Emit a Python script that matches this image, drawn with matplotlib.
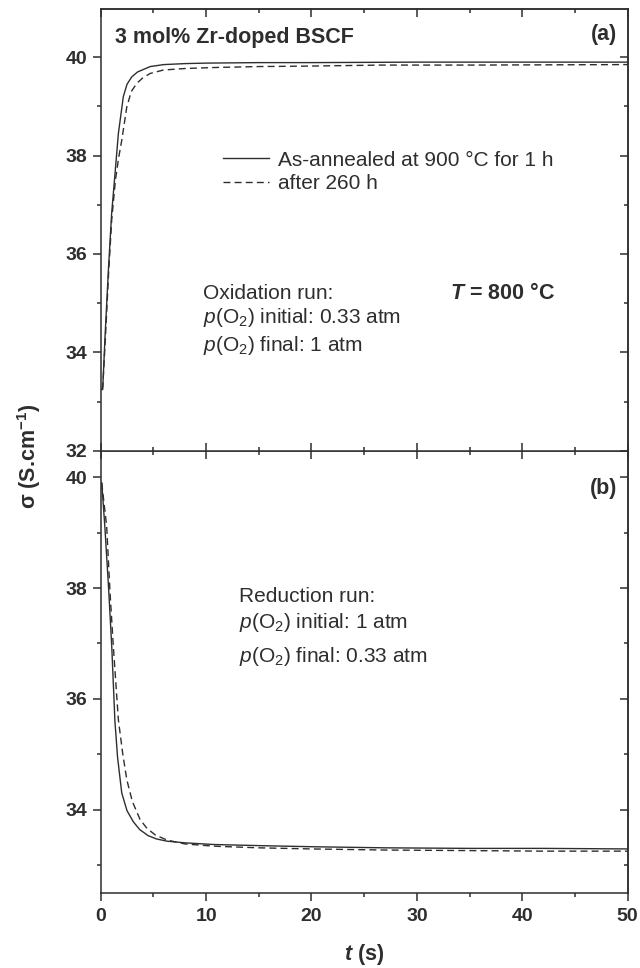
import matplotlib
matplotlib.use('Agg')
import matplotlib.pyplot as plt
from matplotlib.ticker import MultipleLocator

plt.rcParams['font.family'] = ['Liberation Sans', 'DejaVu Sans']
plt.rcParams['mathtext.fontset'] = 'custom'
plt.rcParams['mathtext.rm'] = 'Liberation Sans'
plt.rcParams['mathtext.it'] = 'Liberation Sans:italic'
plt.rcParams['mathtext.bf'] = 'Liberation Sans:bold'
plt.rcParams['mathtext.bfit'] = 'Liberation Sans:italic:bold'

INK = '#2e2e2e'

# (a) oxidation run, 0.33 -> 1 atm
t_ox_fresh = [0.1, 0.19, 0.41, 0.73, 1.04, 1.36, 1.68, 2.15, 2.5, 2.95, 3.5,
              4.7, 6.0, 8, 10, 15, 20, 30, 40, 50]
s_ox_fresh = [33.25, 33.24, 34.3, 35.66, 36.82, 37.63, 38.45, 39.2, 39.45, 39.6,
              39.7, 39.81, 39.85, 39.87, 39.88, 39.89, 39.89, 39.9, 39.9, 39.9]
t_ox_aged = [0.1, 0.2, 0.45, 0.75, 1.05, 1.4, 1.7, 2.0, 2.48, 2.9, 3.43, 4.0,
             4.7, 5.96, 8, 10.7, 15, 20, 26.6, 35, 50]
s_ox_aged = [33.25, 33.3, 34.3, 35.6, 36.7, 37.5, 37.95, 38.31, 38.99, 39.3, 39.47,
             39.58, 39.67, 39.74, 39.77, 39.79, 39.81, 39.82, 39.84, 39.84, 39.85]

# (b) reduction run, 1 -> 0.33 atm
t_red_fresh = [0.1, 0.4, 0.75, 1.05, 1.35, 1.6, 2.0, 2.5, 3.1, 3.7, 4.5, 5.3,
               6.3, 8, 10.7, 15, 20, 27, 35, 42, 50]
s_red_fresh = [39.9, 39.1, 38.0, 36.95, 35.6, 34.95, 34.3, 33.98, 33.78, 33.64,
               33.53, 33.47, 33.43, 33.4, 33.37, 33.35, 33.33, 33.31, 33.3, 33.3, 33.29]
t_red_aged = [0.1, 0.57, 0.89, 1.2, 1.68, 2.1, 2.48, 3.0, 3.74, 4.4, 5.2, 6.3,
              8, 10.7, 15, 20, 27, 35, 42, 50]
s_red_aged = [39.9, 39.11, 37.91, 36.95, 35.62, 35.0, 34.54, 34.15, 33.82, 33.66,
              33.54, 33.45, 33.38, 33.34, 33.31, 33.29, 33.27, 33.26, 33.25, 33.25]

labels = ['As-annealed at 900 °C for 1 h', 'after 260 h']

fig = plt.figure(figsize=(6.4, 9.68), dpi=100)
ax1 = fig.add_axes([0.1573, 0.5344, 0.8234, 0.4563])
ax2 = fig.add_axes([0.1573, 0.0778, 0.8234, 0.4566], sharex=ax1)
ax1.set_zorder(2)

l1, = ax1.plot(t_ox_fresh, s_ox_fresh, color=INK, lw=1.0)
l2, = ax1.plot(t_ox_aged, s_ox_aged, color=INK, lw=1.0, ls=(0, (5, 3)))
ax2.plot(t_red_fresh, s_red_fresh, color=INK, lw=1.0)
ax2.plot(t_red_aged, s_red_aged, color=INK, lw=1.0, ls=(0, (5, 3)))

ax1.set_xlim(0, 50)
ax1.set_ylim(32, 40.98)
ax2.set_ylim(32.5, 40.48)

for ax in (ax1, ax2):
    for sp in ax.spines.values():
        sp.set_linewidth(1.1)
        sp.set_color(INK)
    ax.xaxis.set_major_locator(MultipleLocator(10))
    ax.xaxis.set_minor_locator(MultipleLocator(5))
    ax.yaxis.set_major_locator(MultipleLocator(2))
    ax.yaxis.set_minor_locator(MultipleLocator(1))
    ax.tick_params(which='both', colors=INK, width=1.1)
    ax.tick_params(axis='y', which='major', direction='out', length=6, pad=3.5,
                   labelsize=14)
    ax.tick_params(axis='y', which='minor', direction='out', length=3)
    for lab in ax.get_yticklabels():
        lab.set_fontweight('bold')
    # mirrored ticks on the right
    sy = ax.secondary_yaxis('right')
    sy.yaxis.set_major_locator(MultipleLocator(2))
    sy.yaxis.set_minor_locator(MultipleLocator(1))
    sy.tick_params(which='major', direction='in', length=6, width=1.1, colors=INK,
                   labelright=False)
    sy.tick_params(which='minor', direction='in', length=3, width=1.1, colors=INK)
    sy.spines['right'].set_linewidth(1.1)
    sy.spines['right'].set_color(INK)

# top panel: ticks on top pointing in, shared boundary crossing
sx = ax1.secondary_xaxis('top')
sx.xaxis.set_major_locator(MultipleLocator(10))
sx.xaxis.set_minor_locator(MultipleLocator(5))
sx.tick_params(which='major', direction='in', length=6, width=1.1, colors=INK,
               labeltop=False)
sx.tick_params(which='minor', direction='in', length=3, width=1.1, colors=INK)
sx.spines['top'].set_linewidth(1.1)
sx.spines['top'].set_color(INK)
ax1.tick_params(axis='x', which='major', direction='inout', length=12,
                labelbottom=False)
ax1.tick_params(axis='x', which='minor', direction='inout', length=6)

ax2.tick_params(axis='x', which='major', direction='out', length=6, pad=5,
                labelsize=14)
ax2.tick_params(axis='x', which='minor', direction='out', length=3)
for lab in ax2.get_xticklabels():
    lab.set_fontweight('bold')

# texts, panel (a)
ax1.text(0.027, 0.922, '3 mol% Zr-doped BSCF', transform=ax1.transAxes,
         fontsize=15.5, fontweight='bold', color=INK, va='baseline')
ax1.text(0.98, 0.93, '(a)', transform=ax1.transAxes, fontsize=15.5,
         fontweight='bold', color=INK, ha='right', va='baseline')
ax1.text(0.194, 0.343, 'Oxidation run:', transform=ax1.transAxes, fontsize=15,
         color=INK, va='baseline')
ax1.text(0.194, 0.288, r'$p$(O$_2$) initial: 0.33 atm', transform=ax1.transAxes,
         fontsize=15, color=INK, va='baseline')
ax1.text(0.194, 0.225, r'$p$(O$_2$) final: 1 atm', transform=ax1.transAxes,
         fontsize=15, color=INK, va='baseline')
ax1.text(0.663, 0.343, r'$\mathbfit{T}$ = 800 °C', transform=ax1.transAxes,
         fontsize=15.5, fontweight='bold', color=INK, va='baseline')

leg = ax1.legend([l1, l2], labels, loc='upper left', bbox_to_anchor=(0.2315, 0.679),
                 frameon=False, fontsize=15, borderpad=0, borderaxespad=0,
                 handlelength=2.2, handletextpad=0.47, labelspacing=0.2)
for txt in leg.get_texts():
    txt.set_color(INK)

# texts, panel (b)
ax2.text(0.98, 0.902, '(b)', transform=ax2.transAxes, fontsize=15.5,
         fontweight='bold', color=INK, ha='right', va='baseline')
ax2.text(0.2625, 0.658, 'Reduction run:', transform=ax2.transAxes, fontsize=15,
         color=INK, va='baseline')
ax2.text(0.2625, 0.598, r'$p$(O$_2$) initial: 1 atm', transform=ax2.transAxes,
         fontsize=15, color=INK, va='baseline')
ax2.text(0.2625, 0.523, r'$p$(O$_2$) final: 0.33 atm', transform=ax2.transAxes,
         fontsize=15, color=INK, va='baseline')

# axis labels
fig.text(364 / 640, 1 - 960 / 968, r'$\mathbfit{t}$ (s)', fontsize=15.5,
         fontweight='bold', color=INK, ha='center', va='baseline')
fig.text(29 / 640, 1 - 456 / 968, r'σ (S.cm$^{\mathbf{-1}}$)', fontsize=15.5,
         fontweight='bold', color=INK, ha='center', va='center', rotation=90)

fig.savefig('out.png', dpi=100)
